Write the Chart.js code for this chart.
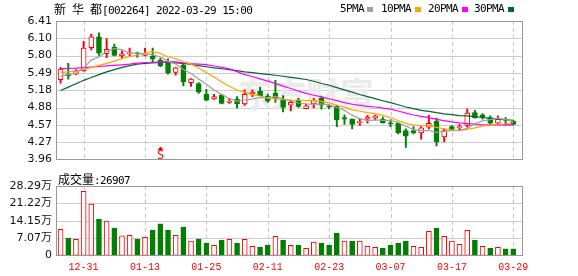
<!DOCTYPE html>
<html><head><meta charset="utf-8">
<script src="https://cdn.jsdelivr.net/npm/chart.js@4"></script>
<style>
html,body{margin:0;padding:0;background:#fff;}
#wrap{position:relative;width:578px;height:276px;overflow:hidden;background:#fff;}
#under,#over{position:absolute;left:0;top:0;width:578px;height:276px;}
#under{z-index:0;} #over{z-index:3;pointer-events:none;}
.cw{position:absolute;left:0;width:578px;z-index:1;}
.t{position:absolute;white-space:nowrap;line-height:14px;color:#000;z-index:4;}
.cj{font-family:"Noto Sans CJK SC";font-size:12px;}
.mo{font-family:"DejaVu Sans Mono";font-size:11px;letter-spacing:-0.62px;}
.sq{position:absolute;width:6px;height:5px;z-index:4;}
.hl{position:absolute;height:1px;background:#cccccc;}
.vl{position:absolute;width:1px;background:repeating-linear-gradient(to bottom,#c8c8c8 0px,#c8c8c8 4px,transparent 4px,transparent 7px);}
.bx{position:absolute;border:1px solid #999999;box-sizing:border-box;}
</style></head><body>
<div id="wrap">
  <div id="under"></div>
  <div class="cw" style="top:0;height:170px"><canvas id="price" width="578" height="170"></canvas></div>
  <div class="cw" style="top:170px;height:106px"><canvas id="vol" width="578" height="106"></canvas></div>
  <div id="over"></div>
  <div class="t" style="left:54px;top:2px"><span class="cj">新</span><span class="mo"> </span><span class="cj">华</span><span class="mo"> </span><span class="cj">都</span><span class="mo">[002264] 2022-03-29 15:00</span></div>
  <div class="t mo" style="left:340px;top:2px">5PMA</div><div class="sq" style="left:367px;top:7px;background:#a0a0a0"></div>
  <div class="t mo" style="left:381px;top:2px">10PMA</div><div class="sq" style="left:415px;top:7px;background:#ffa500"></div>
  <div class="t mo" style="left:428px;top:2px">20PMA</div><div class="sq" style="left:462px;top:7px;background:#ff00ff"></div>
  <div class="t mo" style="left:474px;top:2px">30PMA</div><div class="sq" style="left:508px;top:7px;background:#006633"></div>
  <div class="t" style="left:58px;top:172px"><span class="cj">成交量</span><span class="mo">:26907</span></div>
</div>
<script>
// ---- data ----
const dates = ['12-28','12-29','12-30','12-31','01-04','01-05','01-06','01-07','01-10','01-11','01-12','01-13',
 '01-14','01-17','01-18','01-19','01-20','01-21','01-24','01-25','01-26','01-27','01-28',
 '02-07','02-08','02-09','02-10','02-11','02-14','02-15','02-16','02-17','02-18','02-21','02-22','02-23',
 '02-24','02-25','02-28','03-01','03-02','03-03','03-04','03-07','03-08','03-09','03-10','03-11','03-14','03-15','03-16','03-17',
 '03-18','03-21','03-22','03-23','03-24','03-25','03-28','03-29'];
const opens  = [5.37,5.47,5.47,5.53,5.94,6.13,5.83,5.95,5.79,5.83,5.84,5.80,5.79,5.72,5.66,5.50,5.63,5.32,5.30,5.11,
 5.03,5.10,4.97,5.03,4.94,5.12,5.17,5.08,5.13,5.01,4.92,5.01,4.86,4.94,5.04,4.90,4.90,4.70,4.67,4.61,
 4.67,4.69,4.67,4.60,4.60,4.47,4.47,4.43,4.53,4.64,4.36,4.54,4.52,4.56,4.79,4.75,4.70,4.60,4.66,4.64];
const highs  = [5.59,5.66,5.55,6.05,6.18,6.20,6.10,6.00,5.88,5.93,5.86,5.93,5.93,5.75,5.74,5.59,5.65,5.39,5.32,5.20,
 5.11,5.11,5.04,5.07,5.19,5.19,5.24,5.11,5.36,5.09,5.01,5.04,4.94,5.04,5.08,4.93,4.92,4.75,4.68,4.68,
 4.74,4.74,4.71,4.66,4.61,4.50,4.54,4.54,4.74,4.69,4.50,4.56,4.58,4.85,4.83,4.77,4.73,4.73,4.70,4.65];
const lows   = [5.31,5.38,5.46,5.52,5.90,5.80,5.76,5.79,5.76,5.78,5.77,5.79,5.68,5.60,5.47,5.45,5.26,5.25,5.13,5.00,
 5.02,4.94,4.95,4.87,4.92,5.07,5.09,4.97,4.97,4.80,4.82,4.88,4.86,4.87,4.85,4.86,4.54,4.58,4.50,4.56,
 4.60,4.66,4.60,4.54,4.41,4.17,4.41,4.32,4.50,4.20,4.27,4.47,4.47,4.53,4.69,4.67,4.59,4.58,4.56,4.57];
const closes = [5.56,5.44,5.53,5.93,6.13,5.84,5.91,5.80,5.83,5.84,5.83,5.83,5.74,5.62,5.49,5.58,5.33,5.38,5.15,5.01,
 5.07,4.95,4.99,4.94,5.11,5.15,5.09,4.99,5.04,4.88,4.97,4.90,4.91,5.00,4.92,4.89,4.66,4.67,4.58,4.62,
 4.71,4.73,4.61,4.59,4.43,4.37,4.43,4.52,4.60,4.27,4.47,4.49,4.54,4.78,4.70,4.71,4.60,4.67,4.65,4.58];
const volumes = [10.6,7.06,6.53,26.1,20.9,14.8,14.0,11.1,7.9,8.2,6.65,7.35,10.3,12.8,10.3,8.2,11.55,5.84,6.65,5.02,
 4.08,6.25,6.53,5.02,6.53,3.67,3.39,4.08,7.76,6.25,4.08,4.08,2.86,5.43,5.02,4.08,9.1,5.84,5.84,5.84,
 3.67,3.27,2.98,4.08,5.02,5.84,3.67,3.27,9.8,11.1,7.76,5.84,4.49,10.2,6.25,3.67,2.98,3.27,2.6,2.69];
const ma5  = [5.435,5.46,5.49,5.58,5.718,5.774,5.868,5.922,5.903,5.845,5.843,5.827,5.814,5.772,5.700,5.650,5.550,5.480,5.384,5.289,
 5.187,5.111,5.033,4.992,5.012,5.028,5.056,5.054,5.075,5.029,4.994,4.958,4.943,4.934,4.942,4.926,4.879,4.827,4.743,4.683,
 4.647,4.659,4.651,4.653,4.615,4.547,4.488,4.468,4.471,4.439,4.458,4.469,4.474,4.510,4.596,4.641,4.664,4.690,4.663,4.638];
const ma10 = [5.50,5.51,5.525,5.55,5.59,5.625,5.66,5.70,5.745,5.782,5.808,5.848,5.868,5.837,5.773,5.747,5.689,5.647,5.578,5.495,
 5.419,5.331,5.256,5.188,5.151,5.108,5.083,5.044,5.033,5.021,5.011,5.007,4.999,5.005,4.986,4.960,4.918,4.885,4.838,4.812,
 4.787,4.769,4.739,4.698,4.649,4.597,4.573,4.560,4.562,4.527,4.502,4.478,4.471,4.490,4.517,4.550,4.567,4.582,4.587,4.617];
const ma20 = [5.565,5.57,5.575,5.585,5.595,5.605,5.615,5.625,5.635,5.645,5.665,5.675,5.68,5.685,5.69,5.685,5.67,5.655,5.645,5.638,
 5.613,5.589,5.562,5.513,5.462,5.427,5.386,5.345,5.306,5.258,5.215,5.169,5.128,5.096,5.068,5.034,5.001,4.964,4.936,4.917,
 4.899,4.888,4.869,4.851,4.817,4.779,4.746,4.722,4.700,4.670,4.645,4.624,4.605,4.594,4.583,4.573,4.570,4.571,4.574,4.572];
const ma30 = [5.18,5.24,5.30,5.36,5.41,5.46,5.51,5.55,5.59,5.62,5.645,5.66,5.67,5.675,5.675,5.67,5.66,5.64,5.62,5.60,
 5.58,5.565,5.55,5.53,5.51,5.495,5.48,5.465,5.45,5.432,5.413,5.395,5.374,5.343,5.303,5.272,5.230,5.192,5.150,5.109,
 5.072,5.035,4.998,4.964,4.928,4.888,4.858,4.829,4.811,4.787,4.767,4.751,4.736,4.731,4.717,4.702,4.686,4.676,4.662,4.652];
const priceTicks = ['3.96','4.27','4.57','4.88','5.18','5.49','5.80','6.10','6.41'];
const volTicks = ['0','7.07万','14.15万','21.22万','28.29万'];
const dateTickIdx = [3,11,19,27,35,43,51,59];
const signals = [{index:13, text:'S'}];
const watermark = '东方财富';

// ---- styling ----
const RED='#ff0000', GREEN='#008000';
const PMIN=3.96, PMAX=6.41, VMAX=28.29;
const XMIN=-0.6, XMAX=60.1;
const up = closes.map((c,i)=>c>=opens[i]);
const volUp = closes.map((c,i)=> i===0 ? true : c>=closes[i-1]);

const wmPlugin = {id:'wm', beforeDatasetsDraw(c, args, opts){
  if (!opts || !opts.text) return;
  const {ctx, chartArea:a} = c;
  ctx.save();
  ctx.fillStyle = '#ebebeb';
  ctx.font = 'bold 34px "Noto Sans CJK SC"';
  ctx.textBaseline = 'alphabetic'; ctx.textAlign = 'left';
  ctx.fillText(opts.text, a.left + 182, a.top + 86);
  ctx.restore();
}};
const signalPlugin = {id:'sig', afterDatasetsDraw(c){
  const {ctx, chartArea:a, scales} = c;
  ctx.save(); ctx.fillStyle=RED;
  signals.forEach(s=>{
    const x = Math.round(scales.x.getPixelForValue(s.index))+0.5;
    ctx.beginPath(); ctx.moveTo(x, a.bottom-13); ctx.lineTo(x-3, a.bottom-9.5); ctx.lineTo(x+3, a.bottom-9.5); ctx.closePath(); ctx.fill();
    ctx.font='12px "DejaVu Sans Mono"'; ctx.textAlign='center'; ctx.textBaseline='alphabetic';
    ctx.fillText(s.text, x, a.bottom-0.5);
  });
  ctx.restore();
}};

const xAxisBase = {
  type:'linear', min:XMIN, max:XMAX, offset:false,
  afterBuildTicks: s => { s.ticks = dateTickIdx.map(v=>({value:v})); },
  grid:{display:false, drawTicks:false, offset:false},
  border:{display:false}
};
const yFont = {family:"'DejaVu Sans','Noto Sans CJK SC'", size:11};

const line = (arr,color)=>({type:'line', data:arr.map((v,i)=>({x:i,y:v})), borderColor:color, borderWidth:1.2,
  pointRadius:0, tension:0, order:0, fill:false});

const priceChart = new Chart(document.getElementById('price'), {
  type:'bar',
  data:{datasets:[
    line(ma5,'#a0a0a0'), line(ma10,'#ffa500'), line(ma20,'#ff00ff'), line(ma30,'#006633'),
    {type:'bar', order:1, grouped:false, barThickness:5, minBarLength:1, borderWidth:1, borderSkipped:false,
     data: opens.map((o,i)=>({x:i, y:[o, closes[i]]})),
     backgroundColor: up.map(u=>u?'#ffffff':GREEN), borderColor: up.map(u=>u?RED:GREEN)},
    {type:'bar', order:2, grouped:false, barThickness:1.3, borderWidth:0,
     data: lows.map((l,i)=>({x:i, y:[l, highs[i]]})),
     backgroundColor: up.map(u=>u?RED:GREEN)}
  ]},
  options:{
    responsive:false, animation:false, events:[],
    layout:{padding:{left:0, right:56.3, top:21, bottom:5}},
    plugins:{legend:{display:false}, tooltip:{enabled:false}, wm:{text:watermark}},
    scales:{
      x:Object.assign({}, xAxisBase, {ticks:{display:false}, afterFit:s=>{s.height=0;}}),
      y:{min:PMIN, max:PMAX,
         afterBuildTicks: s => { s.ticks = priceTicks.map((t,k)=>({value: PMIN + k*(PMAX-PMIN)/(priceTicks.length-1)})); },
         ticks:{callback:(v,i)=>priceTicks[i], font:yFont, color:'#111', padding:4},
         grid:{display:false, drawTicks:false}, border:{display:false},
         afterFit:s=>{s.width=56;}}
    }
  },
  plugins:[wmPlugin, signalPlugin]
});

const volChart = new Chart(document.getElementById('vol'), {
  type:'bar',
  data:{datasets:[
    {grouped:false, barThickness:5, borderWidth:1, borderSkipped:false,
     data: volumes.map((v,i)=>({x:i, y:v})),
     backgroundColor: volUp.map(u=>u?'#ffffff':GREEN), borderColor: volUp.map(u=>u?RED:GREEN)}
  ]},
  options:{
    responsive:false, animation:false, events:[],
    layout:{padding:{left:0, right:56.3, top:16, bottom:0}},
    plugins:{legend:{display:false}, tooltip:{enabled:false}},
    scales:{
      x:Object.assign({}, xAxisBase, {
        ticks:{callback:v=>dates[v], color:RED, font:{family:"'Liberation Mono'", size:10}, padding:6, autoSkip:false, maxRotation:0},
        afterFit:s=>{s.height=20.7;}}),
      y:{min:0, max:VMAX,
         afterBuildTicks: s => { s.ticks = volTicks.map((t,k)=>({value: k*VMAX/(volTicks.length-1)})); },
         ticks:{callback:(v,i)=>volTicks[i], font:yFont, color:'#111', padding:4},
         grid:{display:false, drawTicks:false}, border:{display:false},
         afterFit:s=>{s.width=56;}}
    }
  }
});

// gridlines (behind the canvases) and frames (on top), placed from the charts' own scales
function frame(chart, offsetTop){
  const under = document.getElementById('under'), over = document.getElementById('over');
  const a = chart.chartArea, sx = chart.scales.x, sy = chart.scales.y;
  const L = Math.round(a.left), T = Math.round(a.top) + offsetTop, R = Math.round(a.right), B = Math.round(a.bottom) + offsetTop;
  sy.ticks.forEach((t,k)=>{
    if (k===0 || k===sy.ticks.length-1) return;
    const d = document.createElement('div'); d.className='hl';
    d.style.left=L+'px'; d.style.width=(R-L)+'px'; d.style.top=(Math.round(sy.getPixelForValue(t.value))+offsetTop)+'px';
    under.appendChild(d);
  });
  sx.ticks.forEach(t=>{
    const d = document.createElement('div'); d.className='vl';
    d.style.left=Math.round(sx.getPixelForValue(t.value))+'px'; d.style.top=T+'px'; d.style.height=(B-T)+'px';
    under.appendChild(d);
  });
  const b = document.createElement('div'); b.className='bx';
  b.style.left=L+'px'; b.style.top=T+'px'; b.style.width=(R-L+1)+'px'; b.style.height=(B-T+1)+'px';
  over.appendChild(b);
}
frame(priceChart, 0);
frame(volChart, 170);
</script>
</body></html>
